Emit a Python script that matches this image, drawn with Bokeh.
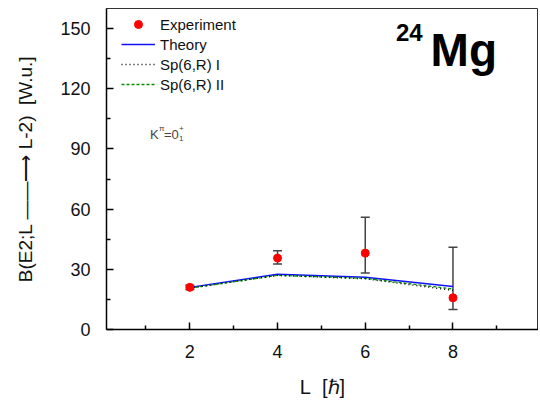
from bokeh.plotting import figure
from bokeh.models import (ColumnDataSource, Whisker, TeeHead, Legend, LegendItem,
                          Label, FixedTicker, Range1d)
from bokeh.embed import file_html
from bokeh.resources import INLINE

# ---- data ----
L = [2, 4, 6, 8]
exp_val = [21.0, 35.6, 38.1, 15.8]
exp_up = [22.0, 39.2, 55.9, 41.0]
exp_lo = [20.0, 32.6, 28.1, 10.0]
theory = [21.0, 27.5, 26.0, 21.4]
sp1 = [20.6, 27.0, 25.3, 19.5]
sp2 = [20.6, 27.0, 25.5, 20.2]
x_major = [2, 4, 6, 8]
x_minor = [1, 3, 5, 7, 9]
y_major = [0, 30, 60, 90, 120, 150]
y_minor = [15, 45, 75, 105, 135]

FONT = "Liberation Sans"
NB = "\u00a0"

p = figure(width=538, height=400, output_backend="svg", toolbar_location=None,
           x_range=Range1d(0.1, 9.95), y_range=Range1d(0, 160),
           min_border_left=106, min_border_right=0, min_border_top=8,
           min_border_bottom=66)
p.xgrid.visible = False
p.ygrid.visible = False
p.outline_line_color = "#333333"
p.outline_line_width = 1
p.background_fill_color = "white"
p.border_fill_color = "white"

p.xaxis.ticker = FixedTicker(ticks=x_major, minor_ticks=x_minor)
p.yaxis.ticker = FixedTicker(ticks=y_major, minor_ticks=y_minor)
for ax in (p.xaxis[0], p.yaxis[0]):
    ax.major_tick_in = 7
    ax.major_tick_out = 0
    ax.minor_tick_in = 4
    ax.minor_tick_out = 0
    ax.axis_line_width = 1.5
    ax.major_tick_line_width = 1.5
    ax.minor_tick_line_width = 1.5
    ax.axis_line_color = "black"
    ax.major_tick_line_color = "black"
    ax.minor_tick_line_color = "black"
    ax.major_label_text_font = FONT
    ax.major_label_text_font_size = "18px"
    ax.major_label_text_color = "#111111"
    ax.axis_label_text_font = FONT
    ax.axis_label_text_font_style = "normal"
    ax.axis_label_text_color = "#111111"

p.yaxis.major_label_standoff = 16
p.yaxis.axis_label = "B(E2;L " + "\u2014\u2014\u27f6" + " L-2)" + NB + NB + "[W.u.]"
p.yaxis.axis_label_text_font_size = "19px"
p.yaxis.axis_label_standoff = 21

p.xaxis.major_label_standoff = 15
p.xaxis.axis_label = "L" + NB + NB + "[\u210f]"
p.xaxis.axis_label_text_font_size = "20px"
p.xaxis.axis_label_standoff = 15

src = ColumnDataSource(dict(L=L, exp=exp_val, up=exp_up, lo=exp_lo,
                            th=theory, sp1=sp1, sp2=sp2))

r_th = p.line("L", "th", source=src, line_color="#1010ff", line_width=1.5)
r_sp2 = p.line("L", "sp2", source=src, line_color="#009000", line_width=1.3,
               line_dash="3 2")
r_sp1 = p.line("L", "sp1", source=src, line_color="black", line_width=1.5,
               line_dash="1 3")
r_exp = p.scatter("L", "exp", source=src, size=8, fill_color="#ff0000",
                  line_color="#ff0000")

wh = Whisker(source=src, base="L", upper="up", lower="lo",
             line_color="#444444", line_width=1.5,
             upper_head=TeeHead(size=9, line_color="#444444", line_width=1.5),
             lower_head=TeeHead(size=9, line_color="#444444", line_width=1.5))
p.add_layout(wh)

legend = Legend(items=[
    LegendItem(label="Experiment", renderers=[r_exp]),
    LegendItem(label="Theory", renderers=[r_th]),
    LegendItem(label="Sp(6,R) I", renderers=[r_sp1]),
    LegendItem(label="Sp(6,R) II", renderers=[r_sp2]),
], location=(15, 235))
legend.border_line_color = None
legend.background_fill_alpha = 0
legend.padding = 0
legend.margin = 0
legend.spacing = 0
legend.label_height = 20
legend.glyph_height = 20
legend.glyph_width = 34
legend.label_standoff = 5
legend.label_text_font = FONT
legend.label_text_font_size = "15px"
legend.label_text_color = "#111111"
p.add_layout(legend, "center")

# ---- title 24Mg ----
p.add_layout(Label(x=7.49, y=139.5, text="Mg", text_font=FONT,
                   text_font_size="46px", text_font_style="bold",
                   text_baseline="alphabetic", text_color="black"))
p.add_layout(Label(x=6.70, y=148.0, text="24", text_font=FONT,
                   text_font_size="24px", text_font_style="bold",
                   text_baseline="alphabetic", text_color="black"))

# ---- K^pi = 0_1^+ ----
kx, ky = 1.09, 97
p.add_layout(Label(x=kx, y=ky, text="K", text_font=FONT, text_font_size="13px",
                   text_baseline="alphabetic"))
p.add_layout(Label(x=kx, y=ky, x_offset=9, y_offset=6, text="\u03c0",
                   text_font=FONT, text_font_size="8px", text_baseline="alphabetic"))
p.add_layout(Label(x=kx, y=ky, x_offset=14, text="=0", text_font=FONT,
                   text_font_size="13px", text_baseline="alphabetic"))
p.add_layout(Label(x=kx, y=ky, x_offset=29, y_offset=6, text="+",
                   text_font=FONT, text_font_size="8px", text_baseline="alphabetic"))
p.add_layout(Label(x=kx, y=ky, x_offset=29, y_offset=-4, text="1",
                   text_font=FONT, text_font_size="8px", text_baseline="alphabetic"))

open("out.html", "w").write(file_html(p, INLINE))
